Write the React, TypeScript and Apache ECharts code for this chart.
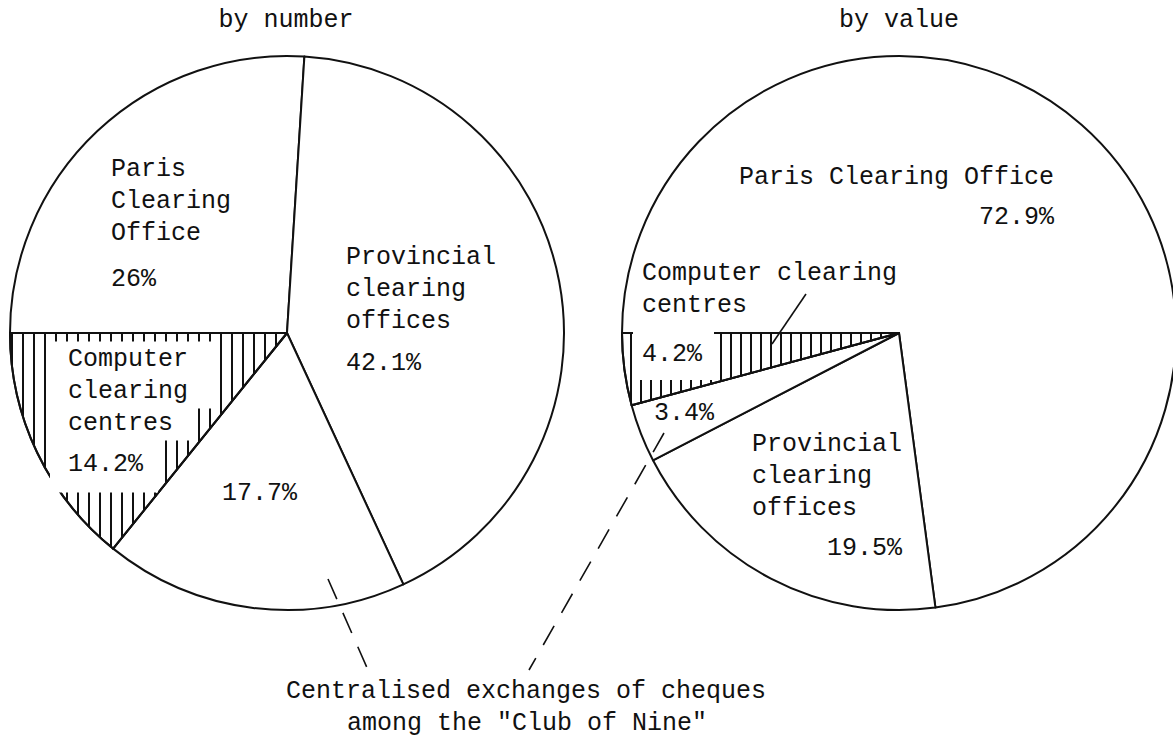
import React, { useEffect, useRef } from 'react';
import * as echarts from 'echarts';

// ---------- data ----------
const CATEGORIES = [
  'Paris Clearing Office',
  'Provincial clearing offices',
  'Centralised exchanges of cheques among the "Club of Nine"',
  'Computer clearing centres',
];
const BY_NUMBER = [26, 42.1, 17.7, 14.2];
const BY_VALUE = [72.9, 19.5, 3.4, 4.2];
const NUMBER_LABEL_NAMES = ['Paris\nClearing\nOffice', 'Provincial\nclearing\noffices', '', 'Computer\nclearing\ncentres'];
const VALUE_LABEL_NAMES = ['Paris Clearing Office', 'Provincial\nclearing\noffices', '', 'Computer clearing\ncentres'];
const PIE_TITLES = ['by number', 'by value'];
const NOTE_LINES = ['Centralised exchanges of cheques', 'among the "Club of Nine"'];

// ---------- layout / style ----------
const FONT = '"Liberation Mono", "Courier New", monospace';
const FS = 25;
const INK = '#111';
const HATCH_INDEX = 3;

type LabelCfg = {
  x: number; y: number; pctLH?: number; pctAlign?: 'left' | 'right';
  lineBg?: number[]; pctBg?: boolean;
};

const PIE_LAYOUT = [
  {
    center: [287, 333], radius: 277, title: [286, 20], hatch: [2, 9],
    labels: [
      { x: 111, y: 153, pctLH: 60 },
      { x: 346, y: 241, pctLH: 52 },
      { x: 222, y: 477 },
      // right paddings of the white boxes behind each line (name lines, then %)
      { x: 50, y: 343, pctLH: 54, lineBg: [25, 25, 19, 15] },
    ] as LabelCfg[],
  },
  {
    center: [899, 333], radius: 277, title: [899, 20], hatch: [2, 8],
    labels: [
      { x: 739, y: 161, pctLH: 48, pctAlign: 'right' },
      { x: 752, y: 428, pctLH: 48, pctAlign: 'right' },
      { x: 654, y: 397 },
      { x: 633, y: 257, pctLH: 70, pctBg: true },
    ] as LabelCfg[],
  },
];

function makeLabel(name: string, value: number, cfg: LabelCfg) {
  const base = { fontFamily: FONT, fontSize: FS, color: INK, lineHeight: 32 };
  const rich: any = {
    t: { ...base },
    ti: { ...base, padding: [0, 0, 0, 9] },
    p: {
      ...base,
      lineHeight: cfg.pctLH ?? 32,
      align: cfg.pctAlign ?? 'left',
      ...(cfg.pctBg ? { backgroundColor: '#fff', padding: [10, 12, 13, 9] } : {}),
    },
  };
  const nameLines = name ? name.split('\n') : [];
  const lines: string[] = [];
  nameLines.forEach((l, i) => {
    if (cfg.lineBg) {
      const key = `b${i}`;
      rich[key] = { ...base, backgroundColor: '#fff', padding: [5, cfg.lineBg[i], 5, 18] };
      lines.push(`{${key}|${l}}`);
    } else {
      lines.push(`{${cfg.pctBg ? 'ti' : 't'}|${l}}`);
    }
  });
  if (cfg.lineBg) {
    rich.p = {
      ...rich.p,
      backgroundColor: '#fff',
      padding: [12, cfg.lineBg[nameLines.length], 16, 18],
    };
  }
  lines.push(`{p|${value}%}`);
  return {
    show: true,
    position: 'inside',
    formatter: lines.join('\n'),
    rich,
  };
}

function buildSeries(values: number[], names: string[], pieIdx: number) {
  const lay = PIE_LAYOUT[pieIdx];
  return {
    type: 'pie',
    center: lay.center,
    radius: lay.radius,
    startAngle: 180,
    clockwise: true,
    silent: true,
    avoidLabelOverlap: false,
    emphasis: { disabled: true },
    labelLine: { show: false },
    itemStyle: { color: '#fff', borderColor: INK, borderWidth: 2 },
    labelLayout: (params: any) => {
      const c = lay.labels[params.dataIndex];
      return { x: c.x, y: c.y, align: 'left', verticalAlign: 'top' };
    },
    data: values.map((v, i) => ({
      name: CATEGORIES[i],
      value: v,
      label: makeLabel(names[i], v, lay.labels[i]),
      itemStyle:
        i === HATCH_INDEX
          ? {
              color: '#fff',
              borderColor: INK,
              borderWidth: 2,
              decal: {
                symbol: 'rect',
                symbolSize: 1,
                color: INK,
                backgroundColor: '#fff',
                dashArrayX: lay.hatch,
                dashArrayY: [10, 0],
                rotation: 0,
              },
            }
          : { color: '#fff', borderColor: INK, borderWidth: 2 },
    })),
  };
}

function textEl(text: string, x: number, y: number) {
  return {
    type: 'text',
    z: 100,
    x,
    y,
    style: {
      text,
      font: `${FS}px ${FONT}`,
      fill: INK,
      align: 'center',
      verticalAlign: 'middle',
      textAlign: 'center',
      textVerticalAlign: 'middle',
    },
  };
}

export default function App() {
  const ref = useRef<HTMLDivElement>(null);
  useEffect(() => {
    if (!ref.current) return;
    const chart = echarts.init(ref.current, undefined, { renderer: 'svg' });
    const dashStyle = { stroke: INK, lineWidth: 1.6, lineDash: [22, 15] };
    chart.setOption({
      animation: false,
      backgroundColor: '#fff',
      series: [
        buildSeries(BY_NUMBER, NUMBER_LABEL_NAMES, 0),
        buildSeries(BY_VALUE, VALUE_LABEL_NAMES, 1),
      ],
      graphic: [
        textEl(PIE_TITLES[0], PIE_LAYOUT[0].title[0], PIE_LAYOUT[0].title[1]),
        textEl(PIE_TITLES[1], PIE_LAYOUT[1].title[0], PIE_LAYOUT[1].title[1]),
        { type: 'line', z: 100, shape: { x1: 328, y1: 579, x2: 368, y2: 670 }, style: dashStyle },
        { type: 'line', z: 100, shape: { x1: 664, y1: 433, x2: 529, y2: 670 }, style: dashStyle },
        { type: 'line', z: 100, shape: { x1: 806, y1: 294, x2: 772, y2: 344 }, style: { stroke: INK, lineWidth: 1.6 } },
        textEl(NOTE_LINES[0], 526, 691),
        textEl(NOTE_LINES[1], 527, 723),
      ],
    });
    return () => chart.dispose();
  }, []);
  return (
    <div
      ref={ref}
      style={{ position: 'absolute', left: 0, top: 0, width: 1173, height: 739, background: '#fff' }}
    />
  );
}
